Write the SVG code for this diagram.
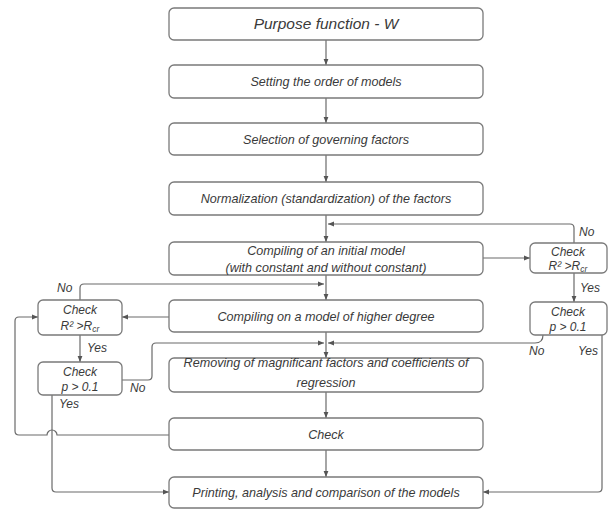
<svg xmlns="http://www.w3.org/2000/svg" width="616" height="510" viewBox="0 0 616 510">
<defs>
<marker id="ah" viewBox="0 0 10 10" refX="10" refY="5" markerWidth="6" markerHeight="6" orient="auto" markerUnits="userSpaceOnUse">
<path d="M0,1 L10,5 L0,9 z" fill="#555"/>
</marker>
<style>
.box{fill:#fff;stroke:#7a7a7a;stroke-width:1.3}
.t{font-family:"Liberation Sans",Arial,sans-serif;font-style:italic;font-size:12.6px;fill:#3a3a3a;text-anchor:middle}
.s{font-family:"Liberation Sans",Arial,sans-serif;font-style:italic;font-size:12px;fill:#3a3a3a;text-anchor:middle}
.l{font-family:"Liberation Sans",Arial,sans-serif;font-style:italic;font-size:12px;fill:#3a3a3a}
.c{fill:none;stroke:#6a6a6a;stroke-width:1.2}
.a{marker-end:url(#ah)}
</style>
</defs>
<rect width="616" height="510" fill="#fff"/>
<g id="connectors">
<line class="c a" x1="326" y1="40" x2="326" y2="65"/>
<line class="c a" x1="326" y1="98" x2="326" y2="123"/>
<line class="c a" x1="326" y1="155" x2="326" y2="182"/>
<line class="c a" x1="326" y1="215" x2="326" y2="242"/>
<line class="c a" x1="326" y1="275" x2="326" y2="300"/>
<line class="c a" x1="326" y1="332" x2="326" y2="358"/>
<line class="c a" x1="326" y1="392" x2="326" y2="418"/>
<line class="c a" x1="326" y1="450" x2="326" y2="477"/>
<line class="c a" x1="483" y1="258" x2="530" y2="258"/>
<path class="c a" d="M574,243 V228 Q574,224 570,224 H328"/>
<line class="c a" x1="574" y1="273" x2="574" y2="302"/>
<path class="c a" d="M543,335 Q543,343 535,343 H328"/>
<path class="c a" d="M602,335 V488 Q602,492 598,492 H483"/>
<line class="c a" x1="169" y1="317" x2="122" y2="317"/>
<path class="c a" d="M80,300 V288 Q80,284 84,284 H324"/>
<line class="c a" x1="80" y1="335" x2="80" y2="362"/>
<path class="c a" d="M122,380 H148 Q152,380 152,376 V347 Q152,343 156,343 H324"/>
<path class="c a" d="M52,395 V488 Q52,492 56,492 H169"/>
<path class="c a" d="M169,435 H57 A5,5 0 0 0 47,435 H19 Q15,435 15,431 V321 Q15,317 19,317 H38"/>
</g>
<g id="n1"><rect class="box" x="169" y="8" width="314" height="32" rx="5"/><text class="t" x="326" y="29" style="font-size:15.5px">Purpose function - W</text></g>
<g id="n2"><rect class="box" x="169" y="65" width="314" height="33" rx="5"/><text class="t" x="326" y="86">Setting the order of models</text></g>
<g id="n3"><rect class="box" x="169" y="123" width="314" height="32" rx="5"/><text class="t" x="326" y="144">Selection of governing factors</text></g>
<g id="n4"><rect class="box" x="169" y="182" width="314" height="33" rx="5"/><text class="t" x="326" y="203">Normalization (standardization) of the factors</text></g>
<g id="n5"><rect class="box" x="169" y="242" width="314" height="33" rx="5"/><text class="t" x="326" y="255">Compiling of an initial model</text><text class="t" x="326" y="272">(with constant and without constant)</text></g>
<g id="n6"><rect class="box" x="169" y="300" width="314" height="32" rx="5"/><text class="t" x="326" y="321">Compiling on a model of higher degree</text></g>
<g id="n7"><rect class="box" x="169" y="358" width="314" height="34" rx="5"/><text class="t" x="326" y="367">Removing of magnificant factors and coefficients of</text><text class="t" x="326" y="387">regression</text></g>
<g id="n8"><rect class="box" x="169" y="418" width="314" height="32" rx="5"/><text class="t" x="326" y="439">Check</text></g>
<g id="n9"><rect class="box" x="169" y="477" width="314" height="31" rx="5"/><text class="t" x="326" y="497">Printing, analysis and comparison of the models</text></g>
<g id="l1"><rect class="box" x="38" y="300" width="84" height="35" rx="5"/><text class="s" x="80" y="314">Check</text><text class="s" x="80" y="330">R² &gt;R<tspan font-size="8.5" dy="2">cr</tspan></text></g>
<g id="l2"><rect class="box" x="38" y="362" width="84" height="33" rx="5"/><text class="s" x="80" y="376">Check</text><text class="s" x="80" y="391">p &gt; 0.1</text></g>
<g id="r1"><rect class="box" x="530" y="243" width="77" height="30" rx="5"/><text class="s" x="568" y="256">Check</text><text class="s" x="568" y="270">R² &gt;R<tspan font-size="8.5" dy="2">cr</tspan></text></g>
<g id="r2"><rect class="box" x="530" y="302" width="77" height="33" rx="5"/><text class="s" x="568" y="316">Check</text><text class="s" x="568" y="331">p &gt; 0.1</text></g>
<g id="labels">
<text class="l" x="579" y="236">No</text>
<text class="l" x="580" y="292">Yes</text>
<text class="l" x="529" y="355">No</text>
<text class="l" x="578" y="355">Yes</text>
<text class="l" x="57" y="292">No</text>
<text class="l" x="87" y="352">Yes</text>
<text class="l" x="130" y="392">No</text>
<text class="l" x="59" y="408">Yes</text>
</g>
</svg>
